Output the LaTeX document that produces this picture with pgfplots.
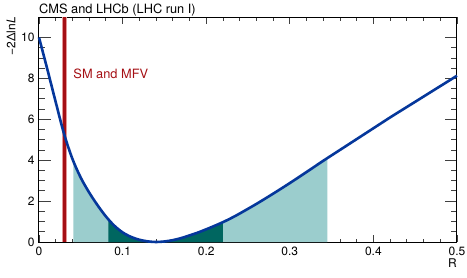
\documentclass[border=0pt]{standalone}
\usepackage{fontspec}
\setmainfont{TeX Gyre Heros}
\usepackage{pgfplots}
\pgfplotsset{compat=1.18}
\usepgfplotslibrary{fillbetween}
\definecolor{curveblue}{RGB}{5,55,155}
\definecolor{lightteal}{RGB}{155,205,205}
\definecolor{darkteal}{RGB}{0,102,96}
\definecolor{smred}{RGB}{165,15,20}
\definecolor{smpink}{RGB}{228,150,150}
\begin{document}
\begin{tikzpicture}
\begin{axis}[
  scale only axis, width=418pt, height=225pt,
  xmin=0, xmax=0.5, ymin=0, ymax=11,
  clip=false,
  xtick={0,0.1,0.2,0.3,0.4,0.5},
  xticklabels={0,0.1,0.2,0.3,0.4,0.5},
  ytick={0,2,4,6,8,10},
  yticklabels={0,2,4,6,8,10},
  minor x tick num=4, minor y tick num=3,
  tick align=inside, tick pos=both,
  axis line style={line width=1pt},
  major tick style={line width=0.8pt, black!75},
  minor tick style={line width=0.8pt, black!75},
  xtick style={/pgfplots/major tick length=7pt, /pgfplots/minor tick length=3.5pt},
  ytick style={/pgfplots/major tick length=12pt, /pgfplots/minor tick length=6pt},
  ticklabel style={font=\fontsize{12}{14}\selectfont},
  xticklabel style={yshift=-1.5pt},
  yticklabel style={xshift=-1pt},
  /pgf/number format/assume math mode=true,
]
\addplot[draw=none, name path=curve, smooth] coordinates {
(0.00,10.00) (0.01,8.44) (0.02,6.84) (0.03,5.28) (0.04,4.06) (0.05,3.14)
(0.06,2.42) (0.07,1.80) (0.08,1.25) (0.09,0.80) (0.10,0.47) (0.11,0.25)
(0.12,0.11) (0.13,0.03) (0.14,0.00) (0.15,0.025) (0.16,0.09) (0.17,0.19)
(0.18,0.32) (0.19,0.46) (0.20,0.62) (0.21,0.79) (0.22,0.97) (0.23,1.17)
(0.24,1.39) (0.26,1.86) (0.28,2.36) (0.30,2.88) (0.32,3.42) (0.34,3.97)
(0.36,4.50) (0.38,5.03) (0.40,5.56) (0.42,6.09) (0.44,6.60) (0.46,7.11)
(0.48,7.62) (0.50,8.13)};
\addplot[draw=none, name path=base] coordinates {(0,0) (0.5,0)};
\addplot[lightteal] fill between[of=curve and base, soft clip={domain=0.041:0.345}];
\addplot[darkteal] fill between[of=curve and base, soft clip={domain=0.083:0.22}];
\addplot[smpink, line width=5pt, forget plot] coordinates {(0.0303,0) (0.0303,11)};
\addplot[smred, line width=3pt, forget plot] coordinates {(0.0303,0) (0.0303,11)};
\addplot[curveblue, line width=2.6pt, smooth] coordinates {
(0.00,10.00) (0.01,8.44) (0.02,6.84) (0.03,5.28) (0.04,4.06) (0.05,3.14)
(0.06,2.42) (0.07,1.80) (0.08,1.25) (0.09,0.80) (0.10,0.47) (0.11,0.25)
(0.12,0.11) (0.13,0.03) (0.14,0.00) (0.15,0.025) (0.16,0.09) (0.17,0.19)
(0.18,0.32) (0.19,0.46) (0.20,0.62) (0.21,0.79) (0.22,0.97) (0.23,1.17)
(0.24,1.39) (0.26,1.86) (0.28,2.36) (0.30,2.88) (0.32,3.42) (0.34,3.97)
(0.36,4.50) (0.38,5.03) (0.40,5.56) (0.42,6.09) (0.44,6.60) (0.46,7.11)
(0.48,7.62) (0.50,8.13)};
\node[anchor=base west, inner sep=0, text=smred, font=\fontsize{12.8}{14}\selectfont] at (axis cs:0.041,8.0) {SM and MFV};
\node[anchor=base west, inner sep=0, font=\fontsize{12.8}{14}\selectfont, yshift=3.7pt] at (rel axis cs:0,1) {CMS and LHCb (LHC run I)};
\node[anchor=east, rotate=90, inner sep=0, font=\fontsize{12}{14}\selectfont, yshift=28pt] at (rel axis cs:0,1) {−2Δln\textit{L}};
\node[anchor=base east, inner sep=0, font=\fontsize{12}{14}\selectfont, yshift=-25pt] at (rel axis cs:1,0) {R};
\coordinate (tl) at (rel axis cs:0,1);
\end{axis}
\pgfresetboundingbox
\path (tl) ++(-39pt,17pt) rectangle ++(467pt,-277pt);
\end{tikzpicture}
\end{document}
